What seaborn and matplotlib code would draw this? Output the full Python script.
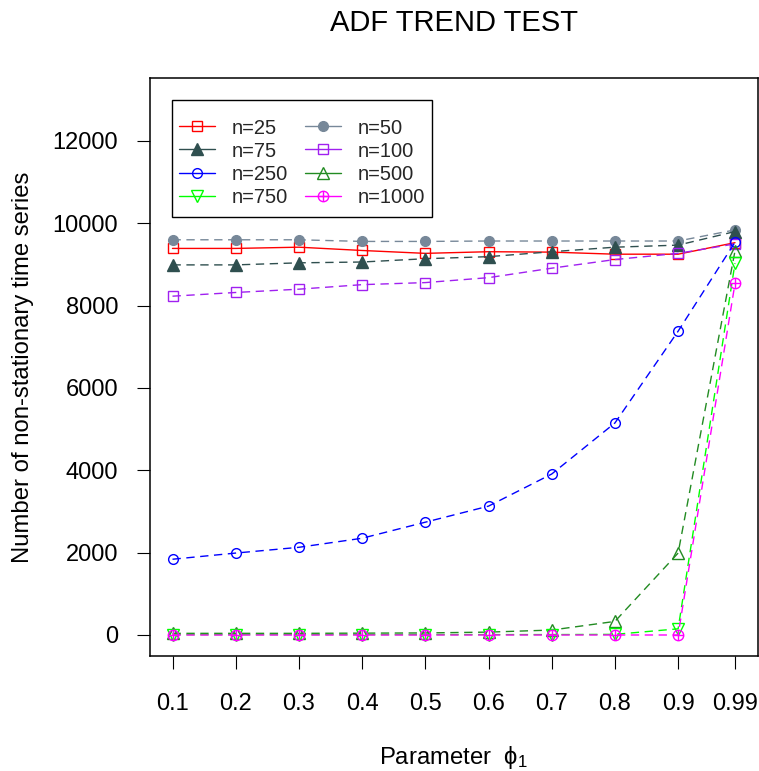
import matplotlib
matplotlib.use("Agg")
import matplotlib.pyplot as plt
from matplotlib.path import Path
from matplotlib.lines import Line2D
from matplotlib.patches import Rectangle
import seaborn as sns
import pandas as pd

# ---- data ----
phi = [0.1, 0.2, 0.3, 0.4, 0.5, 0.6, 0.7, 0.8, 0.9, 0.99]
phi_labels = ["0.1", "0.2", "0.3", "0.4", "0.5", "0.6", "0.7", "0.8", "0.9", "0.99"]
n25 = [9390, 9390, 9420, 9340, 9270, 9310, 9300, 9250, 9250, 9530]
n50 = [9600, 9600, 9600, 9560, 9560, 9570, 9570, 9570, 9570, 9840]
n75 = [8990, 8990, 9040, 9060, 9140, 9190, 9310, 9420, 9470, 9800]
n100 = [8230, 8320, 8400, 8510, 8560, 8680, 8910, 9120, 9270, 9500]
n250 = [1840, 1990, 2130, 2350, 2740, 3130, 3910, 5150, 7380, 9540]
n500 = [40, 40, 40, 45, 50, 70, 120, 330, 1990, 9330]
n750 = [10, 10, 10, 10, 10, 10, 10, 15, 150, 9030]
n1000 = [0, 0, 0, 0, 0, 0, 0, 0, 0, 8540]
series_names = ["n=25", "n=50", "n=75", "n=100", "n=250", "n=500", "n=750", "n=1000"]
series_values = [n25, n50, n75, n100, n250, n500, n750, n1000]
y_ticks = [0, 2000, 4000, 6000, 8000, 10000, 12000]

rows = []
for name, vals in zip(series_names, series_values):
    for p, v in zip(phi, vals):
        rows.append({"phi": p, "count": v, "series": name})
df = pd.DataFrame(rows)

# ---- style ----
sns.set_theme(style="white")
plt.rcParams["font.family"] = ["Liberation Sans", "DejaVu Sans"]
plt.rcParams["mathtext.fontset"] = "custom"
plt.rcParams["mathtext.rm"] = "Liberation Sans"
plt.rcParams["mathtext.it"] = "Liberation Sans"

circ = Path.unit_circle()
cross = Path([(-1, 0), (1, 0), (0, -1), (0, 1)],
             [Path.MOVETO, Path.LINETO, Path.MOVETO, Path.LINETO])
circle_plus = Path.make_compound_path(circ, cross)

dash = (0, (6, 4))
styles = {
    "n=25":   dict(color="#FF0000", marker="s", filled=False, ls="-", ms=7),
    "n=50":   dict(color="#778899", marker="o", filled=True, ls=dash, ms=7),
    "n=75":   dict(color="#2F4F4F", marker="^", filled=True, ls=dash, ms=8.5),
    "n=100":  dict(color="#A020F0", marker="s", filled=False, ls=dash, ms=7),
    "n=250":  dict(color="#0000FF", marker="o", filled=False, ls=dash, ms=7),
    "n=500":  dict(color="#228B22", marker="^", filled=False, ls=dash, ms=8.5),
    "n=750":  dict(color="#00FF00", marker="v", filled=False, ls=dash, ms=8.5),
    "n=1000": dict(color="#FF00FF", marker=circle_plus, filled=False, ls=dash, ms=7.5),
}

W, H = 759, 771
fig = plt.figure(figsize=(W / 100, H / 100), dpi=100)
ax_l, ax_r, ax_t, ax_b = 150, 757.5, 78.4, 656.4
ax = fig.add_axes([ax_l / W, 1 - ax_b / H, (ax_r - ax_l) / W, (ax_b - ax_t) / H])

for name in series_names:
    st = styles[name]
    sub = df[df["series"] == name]
    sns.lineplot(data=sub, x="phi", y="count", ax=ax, color=st["color"],
                 marker=st["marker"], markersize=st["ms"],
                 markerfacecolor=st["color"] if st["filled"] else "none",
                 markeredgecolor=st["color"], markeredgewidth=1.0,
                 linewidth=1.0, linestyle=st["ls"], errorbar=None,
                 label=name, legend=False)

ax.set_xlim(0.1 - 0.04 * 0.89, 0.99 + 0.04 * 0.89)
ax.set_ylim(-520, 13520)
ax.set_xticks(phi)
ax.set_xticklabels(phi_labels)
ax.set_yticks(y_ticks)
ax.set_yticklabels([str(v) for v in y_ticks])
ax.tick_params(axis="both", direction="out", length=9.5, width=0.8,
               color="black", labelsize=17, labelcolor="black", left=True, bottom=True)
ax.tick_params(axis="y", pad=13.5)
ax.tick_params(axis="x", pad=17)

for sp in ax.spines.values():
    sp.set_visible(True)
    sp.set_color("black")
    sp.set_linewidth(1.1)

ax.set_title("ADF TREND TEST", fontsize=21, pad=34, color="black")
ax.set_xlabel(r"Parameter  $\mathrm{\phi}_1$", fontsize=17.2, color="black")
ax.set_ylabel("Number of non-stationary time series", fontsize=17.2, color="black")
ax.xaxis.set_label_coords(0.5, (ax_b - 744) / (ax_b - ax_t))
ax.yaxis.set_label_coords((23 - ax_l) / (ax_r - ax_l), 0.5)
ax.yaxis.label.set_va("center")

# legend frame (figure pixels 172..432 x 100..217)
frame = Rectangle((172 / W, 1 - 217 / H), (432 - 172) / W, (217 - 100) / H,
                  transform=fig.transFigure, facecolor="white", edgecolor="black",
                  linewidth=1.0, zorder=5, clip_on=False)
fig.patches.append(frame)

order = ["n=25", "n=75", "n=250", "n=750", "n=50", "n=100", "n=500", "n=1000"]
proxies = []
for k in order:
    st = styles[k]
    proxies.append(Line2D([], [], color=st["color"], linestyle="-", linewidth=1.0,
                          marker=st["marker"], markersize=st["ms"],
                          markerfacecolor=st["color"] if st["filled"] else "none",
                          markeredgecolor=st["color"], markeredgewidth=1.0))
fs = 14.5
leg = fig.legend(proxies, order, ncol=2, loc="upper left",
                 bbox_to_anchor=(179 / W, 1 - 118.5 / H),
                 borderaxespad=0, borderpad=0, fontsize=fs, frameon=False,
                 handlelength=1.79, handletextpad=0.85, columnspacing=0.82,
                 labelspacing=0.2)
leg.set_zorder(6)

fig.savefig("out.png", dpi=100, facecolor="white")
